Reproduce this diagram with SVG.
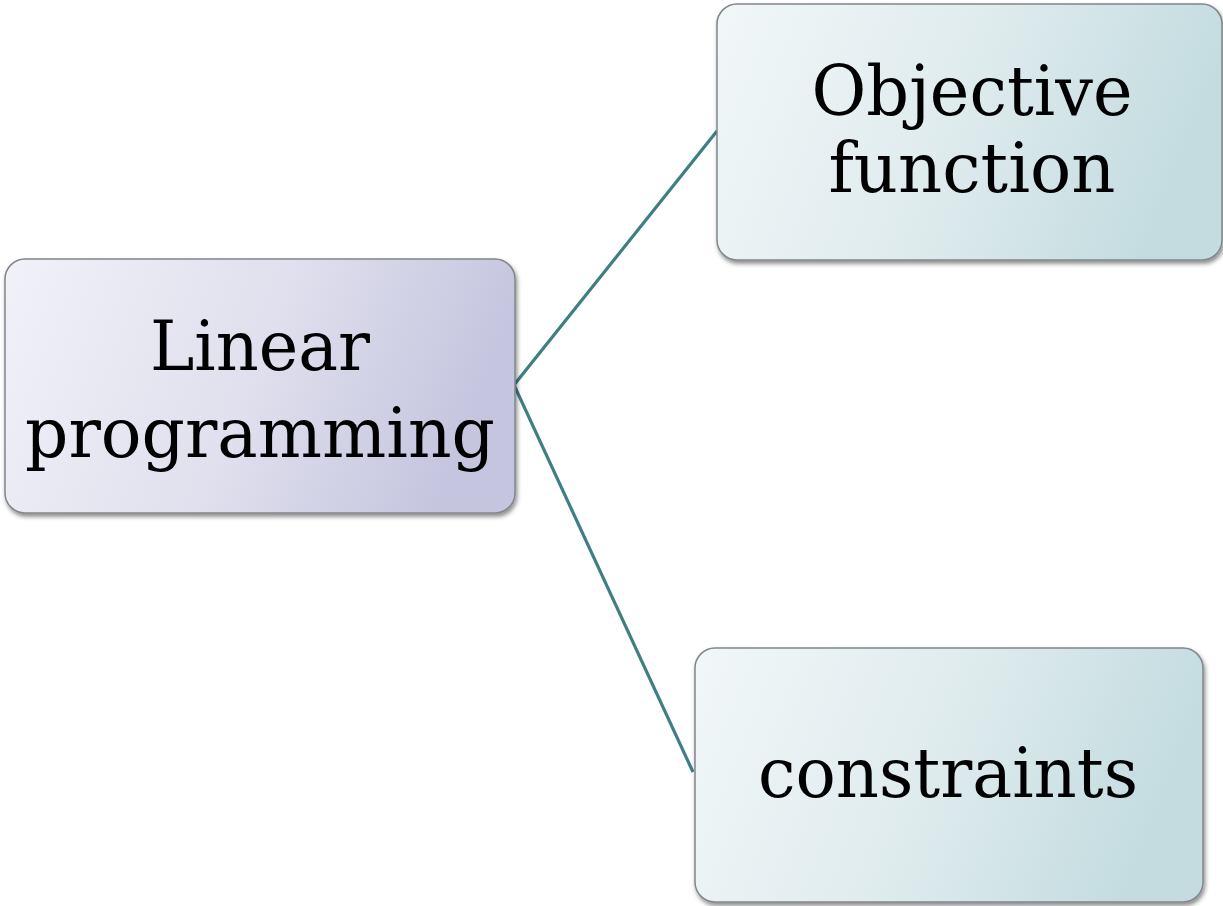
<svg xmlns="http://www.w3.org/2000/svg" width="1223" height="906" viewBox="0 0 1223 906">
  <style>
    .box { stroke: #80868b; stroke-width: 1.5; filter: url(#shadow); }
    .label { font-family: "DejaVu Serif", "Liberation Serif", serif; font-size: 70px; fill: #000; text-anchor: middle; }
    .link { stroke: #3f7f84; stroke-width: 3.2; fill: none; }
  </style>
  <defs>
    <linearGradient id="lavender" x1="0" y1="0" x2="1" y2="0.2">
      <stop offset="0" stop-color="#f1f1f8"/>
      <stop offset="0.55" stop-color="#e0e0ee"/>
      <stop offset="1" stop-color="#c5c5df"/>
    </linearGradient>
    <linearGradient id="teal" x1="0" y1="0" x2="1" y2="0.2">
      <stop offset="0" stop-color="#f2f7f8"/>
      <stop offset="0.55" stop-color="#deebed"/>
      <stop offset="1" stop-color="#c4dce0"/>
    </linearGradient>
    <filter id="shadow" x="-5%" y="-5%" width="112%" height="115%">
      <feDropShadow dx="1.5" dy="3" stdDeviation="2" flood-color="#000" flood-opacity="0.45"/>
    </filter>
  </defs>

  <g id="connectors">
    <polyline class="link" points="717,131 514,385 693,772"/>
  </g>

  <g id="node-linear-programming">
    <rect class="box" x="5" y="259" width="510" height="254" rx="20" fill="url(#lavender)"/>
    <text class="label" x="260" y="370" textLength="220" lengthAdjust="spacingAndGlyphs">Linear</text>
    <text class="label" x="260" y="457" textLength="470" lengthAdjust="spacingAndGlyphs">programming</text>
  </g>

  <g id="node-objective-function">
    <rect class="box" x="717" y="4" width="505" height="256" rx="20" fill="url(#teal)"/>
    <text class="label" x="972" y="115" textLength="321" lengthAdjust="spacingAndGlyphs">Objective</text>
    <text class="label" x="972" y="192" textLength="287" lengthAdjust="spacingAndGlyphs">function</text>
  </g>

  <g id="node-constraints">
    <rect class="box" x="695" y="648" width="508" height="254" rx="20" fill="url(#teal)"/>
    <text class="label" x="948" y="797" textLength="380" lengthAdjust="spacingAndGlyphs">constraints</text>
  </g>
</svg>
